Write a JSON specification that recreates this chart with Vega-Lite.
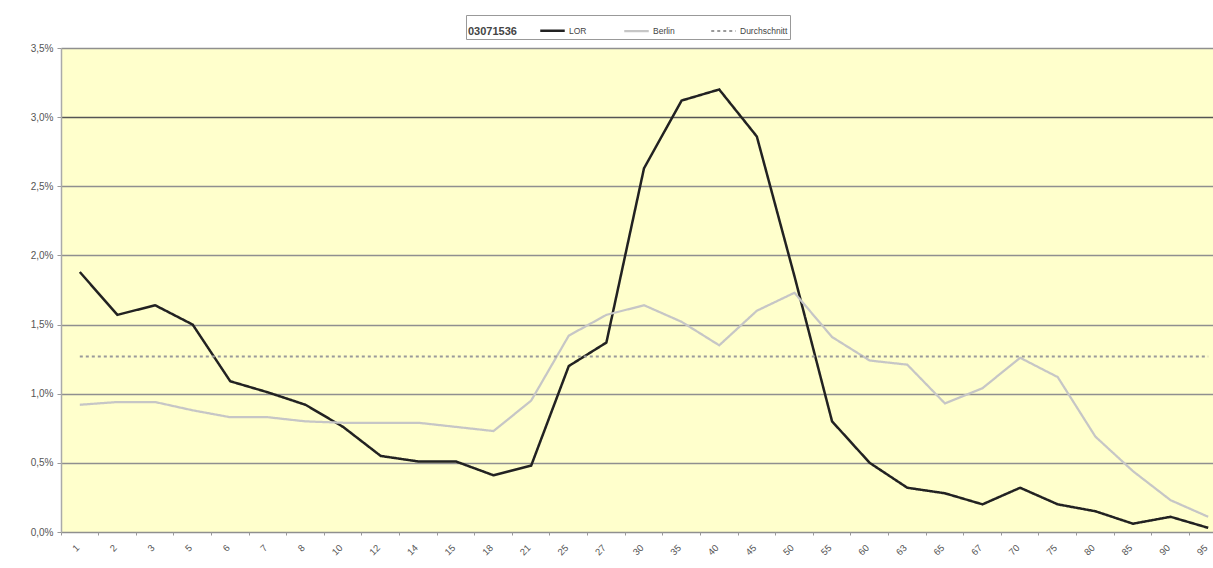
{
  "$schema": "https://vega.github.io/schema/vega-lite/v6.json",
  "width": 1166,
  "height": 484,
  "autosize": {"type": "none"},
  "padding": {"left": 61, "top": 48, "right": 0, "bottom": 36},
  "background": "white",
  "config": {
    "view": {"fill": "#FFFFCC", "stroke": null},
    "font": "Liberation Sans"
  },
  "data": {
    "values": [
      {"age": "1", "series": "LOR", "value": 0.0188},
      {"age": "2", "series": "LOR", "value": 0.0157},
      {"age": "3", "series": "LOR", "value": 0.0164},
      {"age": "5", "series": "LOR", "value": 0.0150},
      {"age": "6", "series": "LOR", "value": 0.0109},
      {"age": "7", "series": "LOR", "value": 0.0101},
      {"age": "8", "series": "LOR", "value": 0.0092},
      {"age": "10", "series": "LOR", "value": 0.0076},
      {"age": "12", "series": "LOR", "value": 0.0055},
      {"age": "14", "series": "LOR", "value": 0.0051},
      {"age": "15", "series": "LOR", "value": 0.0051},
      {"age": "18", "series": "LOR", "value": 0.0041},
      {"age": "21", "series": "LOR", "value": 0.0048},
      {"age": "25", "series": "LOR", "value": 0.0120},
      {"age": "27", "series": "LOR", "value": 0.0137},
      {"age": "30", "series": "LOR", "value": 0.0263},
      {"age": "35", "series": "LOR", "value": 0.0312},
      {"age": "40", "series": "LOR", "value": 0.0320},
      {"age": "45", "series": "LOR", "value": 0.0286},
      {"age": "50", "series": "LOR", "value": 0.0185},
      {"age": "55", "series": "LOR", "value": 0.0080},
      {"age": "60", "series": "LOR", "value": 0.0050},
      {"age": "63", "series": "LOR", "value": 0.0032},
      {"age": "65", "series": "LOR", "value": 0.0028},
      {"age": "67", "series": "LOR", "value": 0.0020},
      {"age": "70", "series": "LOR", "value": 0.0032},
      {"age": "75", "series": "LOR", "value": 0.0020},
      {"age": "80", "series": "LOR", "value": 0.0015},
      {"age": "85", "series": "LOR", "value": 0.0006},
      {"age": "90", "series": "LOR", "value": 0.0011},
      {"age": "95", "series": "LOR", "value": 0.0003},
      {"age": "1", "series": "Berlin", "value": 0.0092},
      {"age": "2", "series": "Berlin", "value": 0.0094},
      {"age": "3", "series": "Berlin", "value": 0.0094},
      {"age": "5", "series": "Berlin", "value": 0.0088},
      {"age": "6", "series": "Berlin", "value": 0.0083},
      {"age": "7", "series": "Berlin", "value": 0.0083},
      {"age": "8", "series": "Berlin", "value": 0.0080},
      {"age": "10", "series": "Berlin", "value": 0.0079},
      {"age": "12", "series": "Berlin", "value": 0.0079},
      {"age": "14", "series": "Berlin", "value": 0.0079},
      {"age": "15", "series": "Berlin", "value": 0.0076},
      {"age": "18", "series": "Berlin", "value": 0.0073},
      {"age": "21", "series": "Berlin", "value": 0.0095},
      {"age": "25", "series": "Berlin", "value": 0.0142},
      {"age": "27", "series": "Berlin", "value": 0.0157},
      {"age": "30", "series": "Berlin", "value": 0.0164},
      {"age": "35", "series": "Berlin", "value": 0.0152},
      {"age": "40", "series": "Berlin", "value": 0.0135},
      {"age": "45", "series": "Berlin", "value": 0.0160},
      {"age": "50", "series": "Berlin", "value": 0.0173},
      {"age": "55", "series": "Berlin", "value": 0.0141},
      {"age": "60", "series": "Berlin", "value": 0.0124},
      {"age": "63", "series": "Berlin", "value": 0.0121},
      {"age": "65", "series": "Berlin", "value": 0.0093},
      {"age": "67", "series": "Berlin", "value": 0.0104},
      {"age": "70", "series": "Berlin", "value": 0.0126},
      {"age": "75", "series": "Berlin", "value": 0.0112},
      {"age": "80", "series": "Berlin", "value": 0.0069},
      {"age": "85", "series": "Berlin", "value": 0.0044},
      {"age": "90", "series": "Berlin", "value": 0.0023},
      {"age": "95", "series": "Berlin", "value": 0.0011},
      {"age": "1", "series": "Durchschnitt", "value": 0.0127},
      {"age": "2", "series": "Durchschnitt", "value": 0.0127},
      {"age": "3", "series": "Durchschnitt", "value": 0.0127},
      {"age": "5", "series": "Durchschnitt", "value": 0.0127},
      {"age": "6", "series": "Durchschnitt", "value": 0.0127},
      {"age": "7", "series": "Durchschnitt", "value": 0.0127},
      {"age": "8", "series": "Durchschnitt", "value": 0.0127},
      {"age": "10", "series": "Durchschnitt", "value": 0.0127},
      {"age": "12", "series": "Durchschnitt", "value": 0.0127},
      {"age": "14", "series": "Durchschnitt", "value": 0.0127},
      {"age": "15", "series": "Durchschnitt", "value": 0.0127},
      {"age": "18", "series": "Durchschnitt", "value": 0.0127},
      {"age": "21", "series": "Durchschnitt", "value": 0.0127},
      {"age": "25", "series": "Durchschnitt", "value": 0.0127},
      {"age": "27", "series": "Durchschnitt", "value": 0.0127},
      {"age": "30", "series": "Durchschnitt", "value": 0.0127},
      {"age": "35", "series": "Durchschnitt", "value": 0.0127},
      {"age": "40", "series": "Durchschnitt", "value": 0.0127},
      {"age": "45", "series": "Durchschnitt", "value": 0.0127},
      {"age": "50", "series": "Durchschnitt", "value": 0.0127},
      {"age": "55", "series": "Durchschnitt", "value": 0.0127},
      {"age": "60", "series": "Durchschnitt", "value": 0.0127},
      {"age": "63", "series": "Durchschnitt", "value": 0.0127},
      {"age": "65", "series": "Durchschnitt", "value": 0.0127},
      {"age": "67", "series": "Durchschnitt", "value": 0.0127},
      {"age": "70", "series": "Durchschnitt", "value": 0.0127},
      {"age": "75", "series": "Durchschnitt", "value": 0.0127},
      {"age": "80", "series": "Durchschnitt", "value": 0.0127},
      {"age": "85", "series": "Durchschnitt", "value": 0.0127},
      {"age": "90", "series": "Durchschnitt", "value": 0.0127},
      {"age": "95", "series": "Durchschnitt", "value": 0.0127}
    ]
  },
  "mark": {"type": "line", "strokeCap": "butt"},
  "encoding": {
    "x": {
      "field": "age",
      "type": "ordinal",
      "sort": null,
      "bandPosition": 0.5,
      "scale": {"type": "band", "paddingInner": 0, "paddingOuter": 0},
      "axis": {
        "title": null,
        "bandPosition": 0,
        "labelOffset": -2,
        "labelAngle": -45,
        "labelAlign": "right",
        "labelBaseline": "middle",
        "labelFontSize": 9.5,
        "labelColor": "#555555",
        "labelPadding": 11,
        "tickSize": 3,
        "tickColor": "#999999",
        "domain": false,
        "grid": false
      }
    },
    "y": {
      "field": "value",
      "type": "quantitative",
      "scale": {"domain": [0, 0.035], "nice": false},
      "axis": {
        "title": null,
        "values": [0, 0.005, 0.01, 0.015, 0.02, 0.025, 0.03, 0.035],
        "labelExpr": "replace(format(datum.value, '.1%'), '.', ',')",
        "labelFontSize": 10,
        "labelColor": "#555555",
        "labelPadding": 4,
        "tickSize": 4,
        "tickColor": "#999999",
        "domainColor": "#aaaaaa",
        "domainWidth": 1.5,
        "grid": true,
        "gridColor": {"condition": {"test": "abs(datum.value - 0.03) < 0.0001", "value": "#555555"}, "value": "#8f8f8f"},
        "gridWidth": 1.5
      }
    },
    "color": {
      "field": "series",
      "type": "nominal",
      "sort": ["LOR", "Berlin", "Durchschnitt"],
      "scale": {"domain": ["LOR", "Berlin", "Durchschnitt"], "range": ["#222222", "#c6c6c6", "#9a9a9a"]},
      "legend": {
        "title": "03071536",
        "orient": "none",
        "legendX": 405,
        "legendY": -33,
        "direction": "horizontal",
        "titleOrient": "left",
        "titleAnchor": "middle",
        "titleBaseline": "top",
        "titleFontSize": 11,
        "titleFontWeight": "bold",
        "titleColor": "#444444",
        "titlePadding": 22,
        "labelFontSize": 8.5,
        "labelColor": "#444444",
        "labelOffset": 3,
        "symbolType": "stroke",
        "symbolSize": 600,
        "symbolStrokeWidth": 2,
        "columnPadding": 32,
        "strokeColor": "#999999",
        "fillColor": "white",
        "padding": 2
      }
    },
    "strokeDash": {
      "field": "series",
      "type": "nominal",
      "sort": ["LOR", "Berlin", "Durchschnitt"],
      "scale": {"domain": ["LOR", "Berlin", "Durchschnitt"], "range": [[1, 0], [1, 0], [3, 3]]},
      "legend": {
        "title": "03071536"
      }
    },
    "strokeWidth": {
      "field": "series",
      "type": "nominal",
      "scale": {"domain": ["LOR", "Berlin", "Durchschnitt"], "range": [2.5, 2, 2.5]},
      "legend": null
    }
  }
}
